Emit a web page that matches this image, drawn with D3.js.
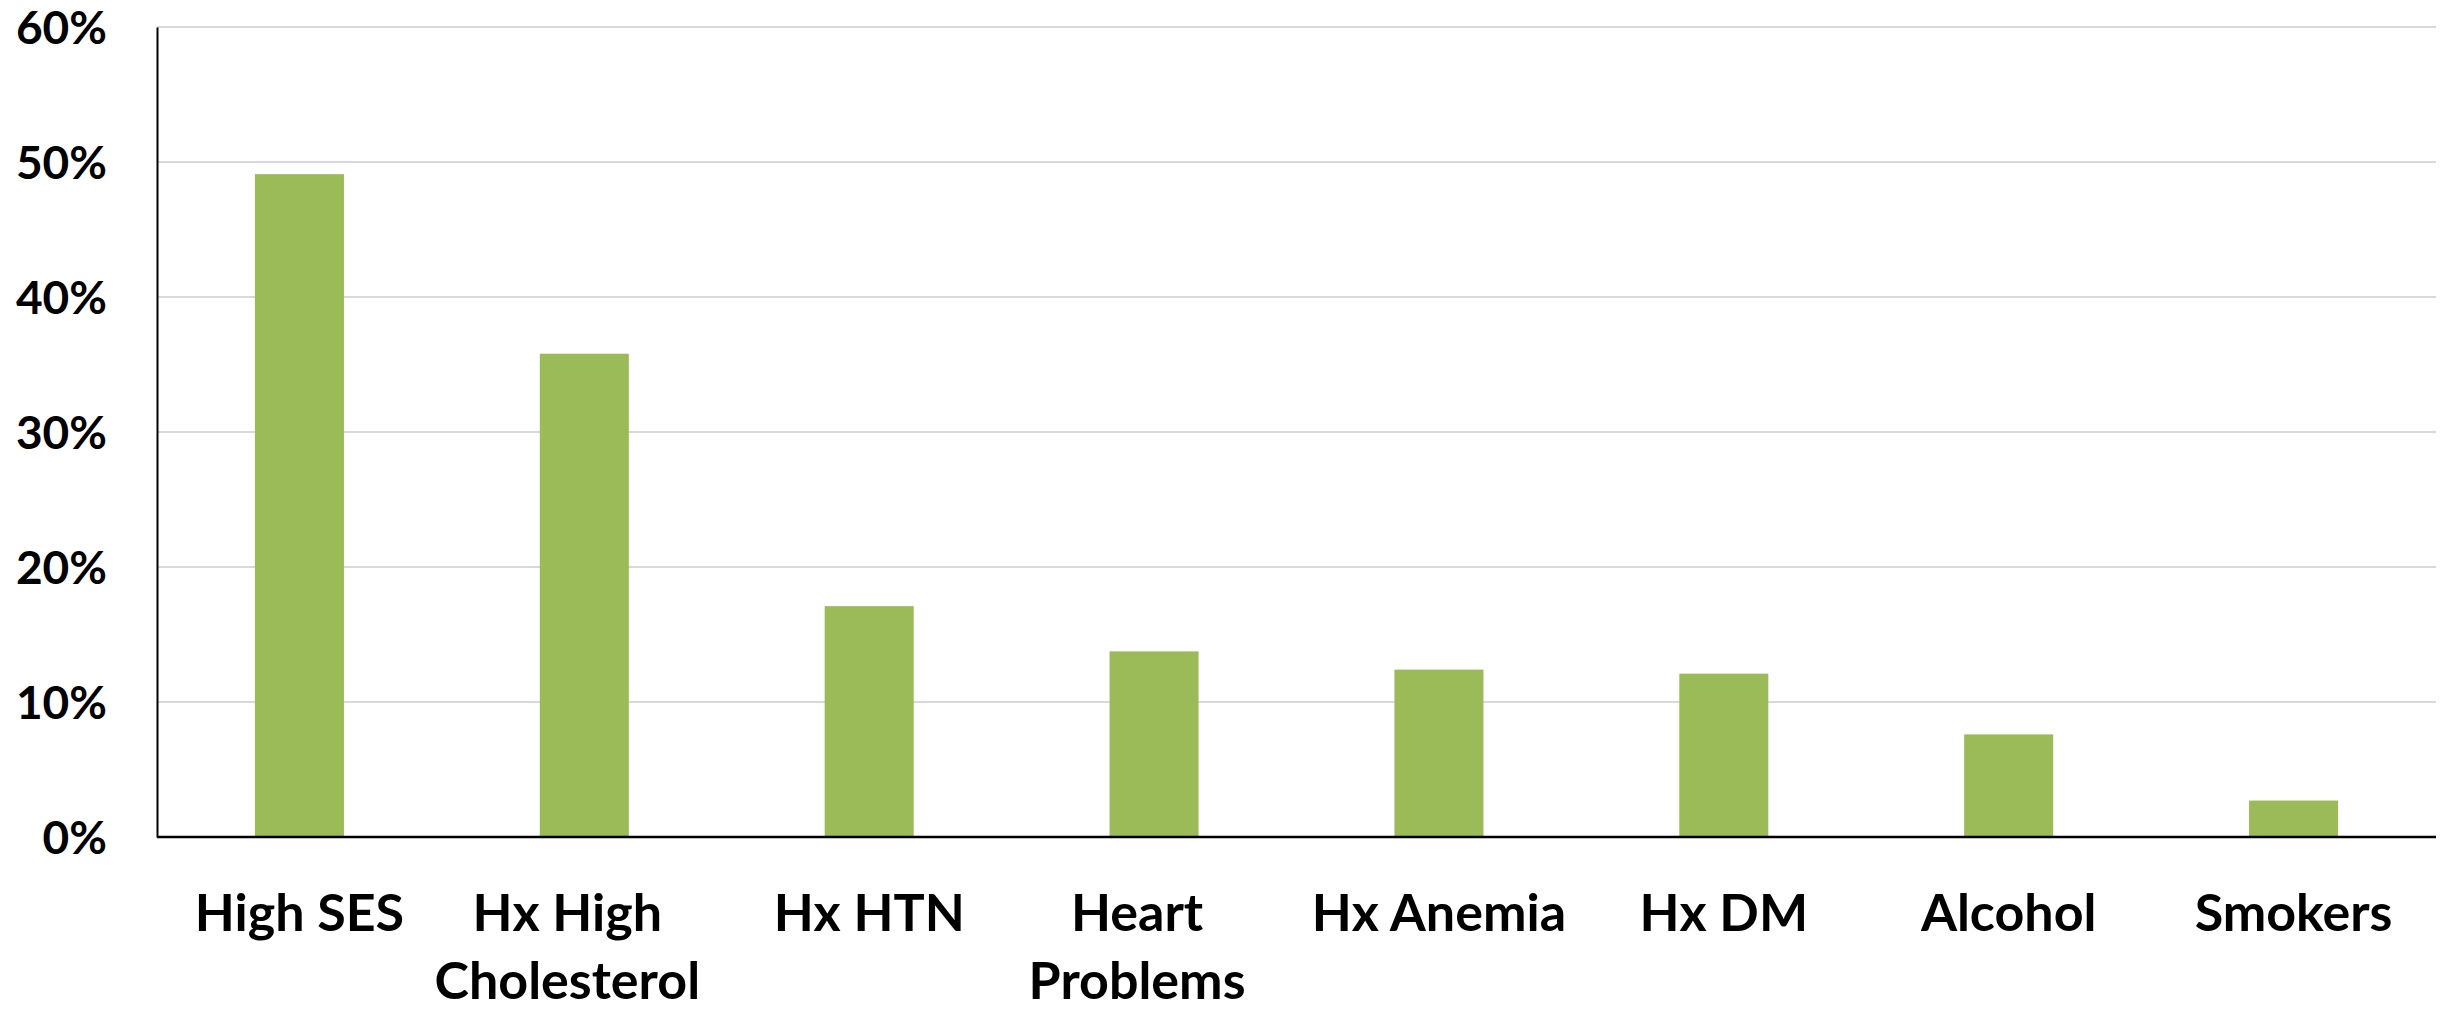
<!DOCTYPE html>
<html>
<head>
<meta charset="utf-8">
<script src="https://cdn.jsdelivr.net/npm/d3@7"></script>
<style>
  body { margin: 0; background: #fff; }
  svg text { font-family: Lato, "Open Sans", sans-serif; font-weight: bold; fill: #000; }
</style>
</head>
<body>
<div id="chart"></div>
<script>
// categories (wrapped labels split into lines)
var categories = ["High SES", "Hx High Cholesterol", "Hx HTN", "Heart Problems", "Hx Anemia", "Hx DM", "Alcohol", "Smokers"];
var labelLines = [["High SES"], ["Hx High", "Cholesterol"], ["Hx HTN"], ["Heart", "Problems"], ["Hx Anemia"], ["Hx DM"], ["Alcohol"], ["Smokers"]];
var values = [0.491, 0.358, 0.171, 0.1375, 0.124, 0.121, 0.076, 0.027];
var yTicks = [0, 0.1, 0.2, 0.3, 0.4, 0.5, 0.6];

var W = 2448, H = 1011;
var margin = {top: 27, right: 12, bottom: 174, left: 157},
    width = W - margin.left - margin.right,
    height = H - margin.top - margin.bottom;

var svg = d3.select("#chart").append("svg")
    .attr("width", W).attr("height", H)
  .append("g")
    .attr("transform", "translate(" + margin.left + "," + margin.top + ")");

var x = d3.scaleBand()
    .domain(categories)
    .range([0, width])
    .paddingInner(0.6875)
    .paddingOuter(0.34375);

var y = d3.scaleLinear()
    .domain([0, 0.6])
    .range([height, 0]);

// gridlines
svg.append("g")
    .selectAll("line")
    .data(yTicks.filter(function(d) { return d > 0; }))
    .enter().append("line")
    .attr("x1", 0).attr("x2", width)
    .attr("y1", function(d) { return y(d); })
    .attr("y2", function(d) { return y(d); })
    .style("stroke", "#d9d9d9")
    .style("stroke-width", 2);

// bars
svg.selectAll(".bar")
    .data(values)
    .enter().append("rect")
    .attr("class", "bar")
    .attr("x", function(d, i) { return x(categories[i]); })
    .attr("y", function(d) { return y(d); })
    .attr("width", x.bandwidth())
    .attr("height", function(d) { return height - y(d); })
    .style("fill", "#9bbb59");

// y axis
var yAxis = svg.append("g")
    .call(d3.axisLeft(y).tickValues(yTicks).tickSize(0).tickPadding(50).tickFormat(d3.format(".0%")));
yAxis.select(".domain").style("stroke", "#000").style("stroke-width", 2);
yAxis.selectAll("text")
    .style("font-size", "46px")
    .style("font-family", "Lato, 'Open Sans', sans-serif")
    .style("font-weight", "bold")
    .attr("dy", "0.36em");

// x axis line
svg.append("line")
    .attr("x1", 0).attr("x2", width)
    .attr("y1", height).attr("y2", height)
    .style("stroke", "#000")
    .style("stroke-width", 2.5);

// category labels
var lab = svg.append("g").selectAll("text")
    .data(categories)
    .enter().append("text")
    .attr("text-anchor", "middle")
    .style("font-size", "52px")
    .attr("transform", function(d, i) {
        var shift = labelLines[i].length > 1 ? -17 : 0;
        return "translate(" + (x(d) + x.bandwidth() / 2 + shift) + "," + (height + 94) + ")";
    });

lab.selectAll("tspan")
    .data(function(d, i) { return labelLines[i]; })
    .enter().append("tspan")
    .attr("x", 0)
    .attr("y", function(d, j) { return j * 68; })
    .text(function(d) { return d; });
</script>
</body>
</html>
